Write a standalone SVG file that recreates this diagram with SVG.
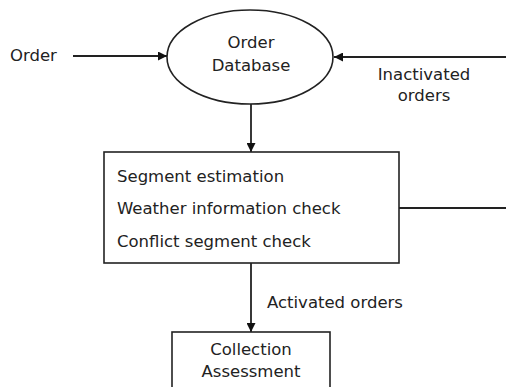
<svg xmlns="http://www.w3.org/2000/svg" width="506" height="387" viewBox="0 0 506 387">
<defs>
<marker id="ah" viewBox="0 0 10 10" refX="10" refY="5" markerWidth="9" markerHeight="9" markerUnits="userSpaceOnUse" orient="auto">
<path d="M0,0 L10,5 L0,10 z" fill="#111"/>
</marker>
<style>
text{font-family:"DejaVu Sans","Open Sans",sans-serif;font-size:16.5px;fill:#222}
.mid{text-anchor:middle}
.shape{fill:#fff;stroke:#222;stroke-width:1.6}
.conn{fill:none;stroke:#222;stroke-width:1.8}
.arr{marker-end:url(#ah)}
</style>
</defs>
<rect width="506" height="387" fill="#fff"/>
<g id="connectors">
<line class="conn arr" x1="73" y1="56" x2="167" y2="56"/>
<line class="conn arr" x1="506" y1="57" x2="334" y2="57"/>
<line class="conn arr" x1="251" y1="104" x2="251" y2="152"/>
<line class="conn" x1="399" y1="208" x2="506" y2="208"/>
<line class="conn arr" x1="251" y1="263" x2="251" y2="332"/>
</g>
<g id="order-input">
<text x="10" y="61">Order</text>
</g>
<g id="order-database">
<ellipse class="shape" cx="250" cy="57" rx="83" ry="47"/>
<text class="mid" x="251" y="48">Order</text>
<text class="mid" x="251" y="71">Database</text>
</g>
<g id="inactivated-label">
<text class="mid" x="424" y="80">Inactivated</text>
<text class="mid" x="424" y="101">orders</text>
</g>
<g id="process-box">
<rect class="shape" x="104" y="152" width="295" height="111"/>
<text x="117" y="182">Segment estimation</text>
<text x="117" y="214">Weather information check</text>
<text x="117" y="247">Conflict segment check</text>
</g>
<g id="activated-label">
<text x="267" y="308">Activated orders</text>
</g>
<g id="collection-assessment">
<rect class="shape" x="172" y="332" width="158" height="60"/>
<text class="mid" x="251" y="355">Collection</text>
<text class="mid" x="251" y="377">Assessment</text>
</g>
</svg>
